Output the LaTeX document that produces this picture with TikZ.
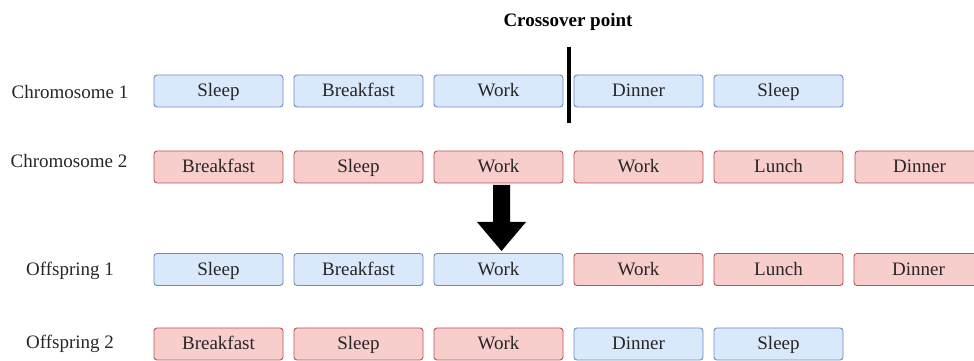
\documentclass[tikz,border=0pt]{standalone}
\usepackage{fontspec}
\setmainfont{Liberation Serif}
\definecolor{bfill}{HTML}{DAE8FC}
\definecolor{bdraw}{HTML}{6C8EBF}
\definecolor{rfill}{HTML}{F8CECC}
\definecolor{rdraw}{HTML}{B85450}
\tikzset{
  gene/.style={rounded corners=3pt, line width=0.9pt, minimum width=129pt, minimum height=32pt, inner sep=0pt, text height=15pt, text depth=3.6pt, font=\fontsize{19}{22}\selectfont, text=black!85},
  bgene/.style={gene, fill=bfill, draw=bdraw},
  rgene/.style={gene, fill=rfill, draw=rdraw},
  rowlabel/.style={inner sep=0pt, anchor=base, font=\fontsize{19}{22}\selectfont, text=black!85},
}
\begin{document}
\begin{tikzpicture}[x=1pt,y=1pt]
\useasboundingbox (0,0) rectangle (974,361);
\clip (0,0) rectangle (974,361);
% labels
\node[rowlabel] (l1) at (70,262.7) {Chromosome 1};
\node[rowlabel] (l2) at (69,193.7) {Chromosome 2};
\node[rowlabel] (l3) at (70,85.3) {Offspring 1};
\node[rowlabel] (l4) at (70,12.7) {Offspring 2};
\node[inner sep=0pt, anchor=base, font=\fontsize{19}{22}\selectfont\bfseries] (cp) at (568,334.3) {Crossover point};
% row 1
\node[bgene] (a1) at (218.5,270) {Sleep};
\node[bgene] (a2) at (358.5,270) {Breakfast};
\node[bgene] (a3) at (498.5,270) {Work};
\node[bgene] (a4) at (638.5,270) {Dinner};
\node[bgene] (a5) at (778.5,270) {Sleep};
% row 2
\node[rgene] (b1) at (218.5,194) {Breakfast};
\node[rgene] (b2) at (358.5,194) {Sleep};
\node[rgene] (b3) at (498.5,194) {Work};
\node[rgene] (b4) at (638.5,194) {Work};
\node[rgene] (b5) at (778.5,194) {Lunch};
\node[rgene] (b6) at (919.5,194) {Dinner};
% row 3
\node[bgene] (c1) at (218.5,91.5) {Sleep};
\node[bgene] (c2) at (358.5,91.5) {Breakfast};
\node[bgene] (c3) at (498.5,91.5) {Work};
\node[rgene] (c4) at (638.5,91.5) {Work};
\node[rgene] (c5) at (778.5,91.5) {Lunch};
\node[rgene] (c6) at (918.5,91.5) {Dinner};
% row 4
\node[rgene] (d1) at (218.5,17) {Breakfast};
\node[rgene] (d2) at (358.5,17) {Sleep};
\node[rgene] (d3) at (498.5,17) {Work};
\node[bgene] (d4) at (638.5,17) {Dinner};
\node[bgene] (d5) at (778.5,17) {Sleep};
% crossover line
\coordinate (xt) at (569,314);
\coordinate (xb) at (569,238);
\draw[line width=3.5pt] (xt) -- (xb);
% block arrow
\fill[black] (493,176) -- (510,176) -- (510,139) -- (526,139) -- (501.5,110) -- (477,139) -- (493,139) -- cycle;
\end{tikzpicture}
\end{document}
